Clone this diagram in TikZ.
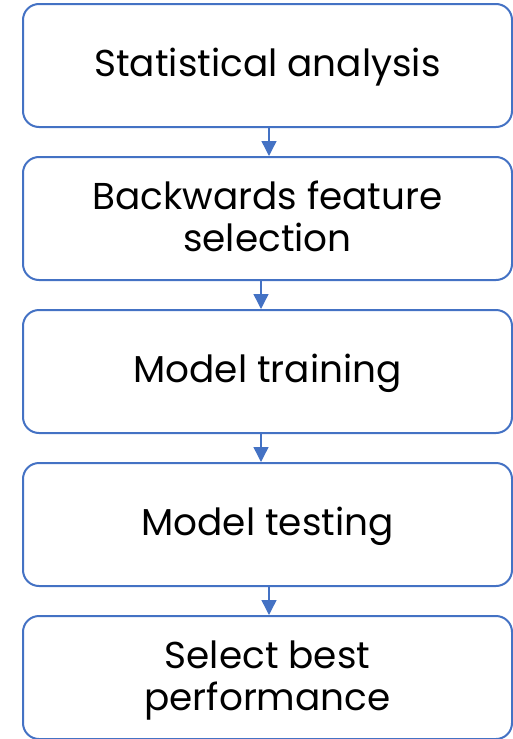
\documentclass[tikz,border=0pt]{standalone}
\usepackage{fontspec}
\setmainfont{Poppins}
\usetikzlibrary{arrows.meta}
\definecolor{stepblue}{HTML}{4472C4}
% Step labels: centred lines on 42pt rows; the first baseline sits at the
% node centre moved by the optional raise (zero-size box, so the frame is unaffected)
\newcommand\steplabel[2][-10.7pt]{%
  \raisebox{#1}[0pt][0pt]{\begin{tabular}[t]{@{}c@{}}#2\end{tabular}}}
\begin{document}
\begin{tikzpicture}[x=1pt,y=1pt,
  stepbox/.style={draw=stepblue, line width=2pt, rounded corners=16pt,
    minimum width=489pt, minimum height=123pt, inner sep=0pt, text=black,
    font={\fontsize{37.4}{42}\selectfont
      \setbox\strutbox\hbox{\vrule height 29.4pt depth 12.6pt width 0pt}}},
  flow/.style={draw=stepblue, line width=1.4pt,
    -{Triangle[width=15pt,length=15pt]}}]
\useasboundingbox (0,0) rectangle (513,-739);
\node[stepbox] (b1) at (267.5,-65.5)  {\steplabel{Statistical analysis}};
\node[stepbox] (b2) at (267.5,-218.5) {\steplabel[9.2pt]{Backwards feature\\selection}};
\node[stepbox] (b3) at (267.5,-371.5) {\steplabel{Model training}};
\node[stepbox] (b4) at (267.5,-524.5) {\steplabel{Model testing}};
\node[stepbox] (b5) at (267.5,-677.5) {\steplabel[9.2pt]{Select best\\performance}};
\draw[flow] ([xshift=1.5pt]b1.south) -- ([xshift=1.5pt]b2.north);
\draw[flow] ([xshift=-6.5pt]b2.south) -- ([xshift=-6.5pt]b3.north);
\draw[flow] ([xshift=-6.5pt]b3.south) -- ([xshift=-6.5pt]b4.north);
\draw[flow] ([xshift=1.5pt]b4.south) -- ([xshift=1.5pt]b5.north);
\end{tikzpicture}
\end{document}
